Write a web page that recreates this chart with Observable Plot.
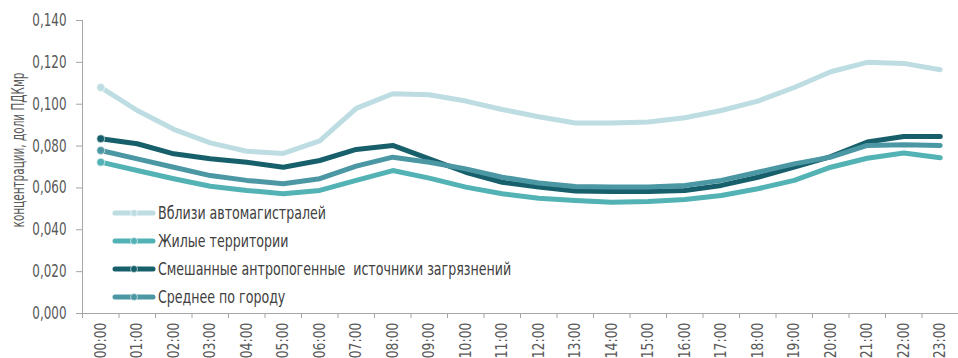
<!DOCTYPE html>
<html><head><meta charset="utf-8">
<script src="https://cdn.jsdelivr.net/npm/d3@7"></script>
<script src="https://cdn.jsdelivr.net/npm/@observablehq/plot@0.6"></script>
<style>
body{margin:0;background:#fff;}
#wrap{position:relative;width:958px;height:358px;overflow:hidden;font-family:"DejaVu Sans Condensed","DejaVu Sans",sans-serif;font-stretch:condensed;}
#legend{position:absolute;left:112px;top:199px;}
.row{display:flex;align-items:center;height:28px;font-size:17px;color:#404040;white-space:pre;}
.row svg{margin-right:2px;flex:none;}
.row span{display:inline-block;transform-origin:left center;}
#ytitle{position:absolute;left:18px;top:150px;width:0;height:0;}
#ytitle span{position:absolute;left:0;top:0;display:inline-block;white-space:nowrap;font-size:18px;color:#595959;}
</style></head><body><div id="wrap"><div id="chart"></div><div id="legend"></div><div id="ytitle"><span>концентрации, доли ПДКмр</span></div></div>
<script>
const hours = ["00:00","01:00","02:00","03:00","04:00","05:00","06:00","07:00","08:00","09:00","10:00","11:00","12:00","13:00","14:00","15:00","16:00","17:00","18:00","19:00","20:00","21:00","22:00","23:00"];
const seriesNames = ["Вблизи автомагистралей","Жилые территории","Смешанные антропогенные  источники загрязнений","Среднее по городу"];
const seriesColors = ["#bddde2","#52b2b4","#17606b","#4b97a3"];
const highway     = [0.108,0.097,0.088,0.0815,0.0775,0.0765,0.0825,0.098,0.105,0.1045,0.1015,0.0975,0.094,0.091,0.091,0.0915,0.0935,0.097,0.1015,0.108,0.1155,0.120,0.1195,0.1165];
const residential = [0.0723,0.0683,0.0644,0.0608,0.0588,0.0572,0.0588,0.0636,0.0683,0.0647,0.0604,0.0572,0.0551,0.0540,0.0532,0.0535,0.0545,0.0564,0.0596,0.0636,0.0699,0.0742,0.0767,0.0744];
const mixed       = [0.0835,0.0811,0.0763,0.0739,0.0723,0.0699,0.0731,0.0784,0.0803,0.0739,0.0675,0.0627,0.0604,0.0585,0.0583,0.0583,0.0588,0.0612,0.0651,0.0699,0.0750,0.0819,0.0846,0.0846];
const cityAvg     = [0.0779,0.0739,0.0699,0.0659,0.0636,0.0620,0.0644,0.0704,0.0747,0.0723,0.0691,0.0651,0.0624,0.0607,0.0604,0.0604,0.0612,0.0636,0.0675,0.0715,0.0747,0.0803,0.0806,0.0803];
const yTicks = [0,0.02,0.04,0.06,0.08,0.10,0.12,0.14];

const series = [highway, residential, mixed, cityAvg];
const rows = [];
seriesNames.forEach((n,s)=>series[s].forEach((v,i)=>rows.push({series:n,i,v})));
const font = '"DejaVu Sans Condensed","DejaVu Sans",sans-serif';
const fmt = v => d3.format(".3f")(v).replace(".", ",");

const chart = Plot.plot({
  width:958, height:358, marginLeft:82, marginRight:0, marginTop:20, marginBottom:45,
  x:{domain:[-0.5,23.5], axis:null},
  y:{domain:[0,0.14], axis:null},
  color:{domain:seriesNames, range:seriesColors},
  style:{fontFamily:font, fontSize:"15px", background:"#fff"},
  marks:[
    Plot.ruleY([0],{stroke:"#a6a6a6"}),
    Plot.ruleX([-0.5],{stroke:"#a6a6a6"}),
    Plot.axisY(yTicks,{tickSize:6, tickPadding:10, tickFormat:fmt, stroke:"#a6a6a6", fill:"#595959", fontSize:17, label:null}),
    Plot.axisX(d3.range(25).map(i=>i-0.5),{tickSize:5, tickFormat:()=>"", stroke:"#a6a6a6", label:null}),
    Plot.axisX(d3.range(24),{tickSize:0, tickPadding:9, tickRotate:-90, tickFormat:i=>hours[i], fill:"#595959", fontSize:15, label:null}),
    Plot.line(rows,{x:"i", y:"v", z:"series", stroke:"series", strokeWidth:5, strokeLinecap:"round", strokeLinejoin:"round"}),
    Plot.dot(rows.filter(d=>d.i===0),{x:"i", y:"v", fill:"series", stroke:"#ffffff", strokeOpacity:0.6, strokeWidth:1, r:4})
  ]
});
document.getElementById("chart").appendChild(chart);

function squeeze(t, s){
  const ax = +t.getAttribute("x")||0, ay = +t.getAttribute("y")||0;
  const T = t.getAttribute("transform")||"";
  t.setAttribute("transform", `${T} translate(${ax},${ay}) scale(${s},1) translate(${-ax},${-ay})`);
}
chart.querySelectorAll("text").forEach(t=>{
  if (/^0,\d{3}$/.test(t.textContent)) squeeze(t, 0.78);
  else if (/^\d\d:\d\d$/.test(t.textContent)) squeeze(t, 0.92);
});

const legend = document.getElementById("legend");
const spans = [];
seriesNames.forEach((n,s)=>{
  const row = document.createElement("div");
  row.className = "row";
  row.innerHTML = `<svg width="44" height="10"><line x1="3" y1="5" x2="41" y2="5" stroke="${seriesColors[s]}" stroke-width="5" stroke-linecap="round"/><circle cx="22" cy="5" r="3.5" fill="${seriesColors[s]}" stroke="#fff" stroke-opacity="0.6"/></svg><span>${n}</span>`;
  legend.appendChild(row);
  spans.push(row.querySelector("span"));
});
const ls = 353 / spans[2].offsetWidth;
spans.forEach(sp=>sp.style.transform = `scaleX(${ls})`);
const yt = document.querySelector("#ytitle span");
const w = yt.offsetWidth, h = yt.offsetHeight;
yt.style.transform = `translate(${-w/2}px,${-h/2}px) rotate(-90deg) scaleX(${155 / w})`;
yt.style.transformOrigin = "center center";
</script></body></html>
